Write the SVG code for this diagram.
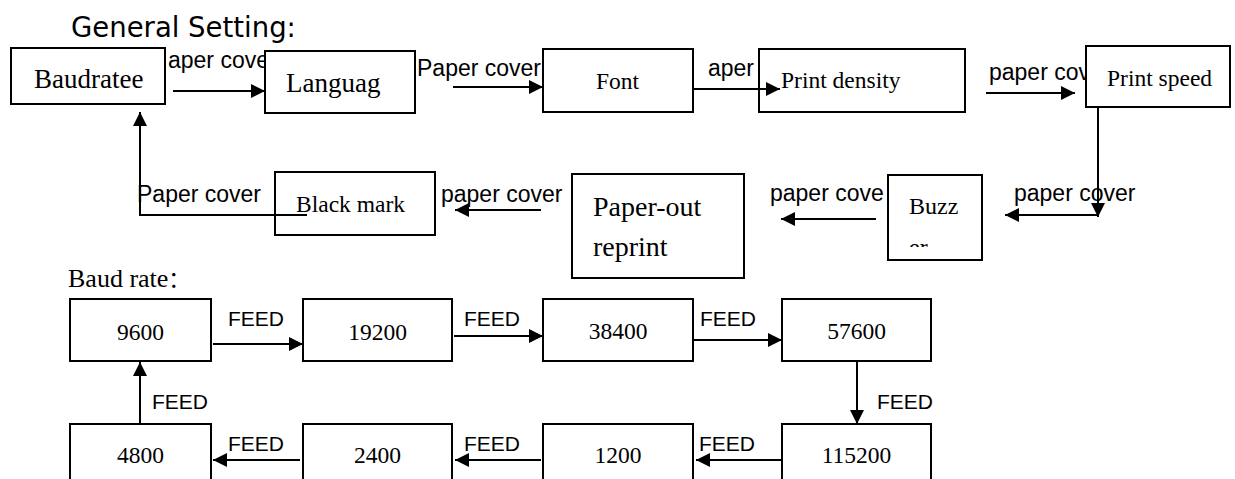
<svg xmlns="http://www.w3.org/2000/svg" width="1235" height="479" viewBox="0 0 1235 479">
<style>
.bg{fill:#fff}
.box{fill:#fff;stroke:#000;stroke-width:2}
.s{font-family:"Liberation Serif","Times New Roman",serif;fill:#000}
.l{font-family:"Liberation Sans",Arial,sans-serif;font-size:23px;fill:#000}
.f{font-family:"Liberation Sans",Arial,sans-serif;font-size:21px;fill:#000}
.c{fill:none;stroke:#000;stroke-width:2}
</style>
<defs>
<marker id="ah" markerWidth="14" markerHeight="14" refX="14" refY="7" orient="auto" markerUnits="userSpaceOnUse">
<path d="M0,0 L14,7 L0,14 z" fill="#000"/>
</marker>
<clipPath id="buzzclip"><rect x="889" y="176" width="92" height="71"/></clipPath>
</defs>
<rect class="bg" x="0" y="0" width="1235" height="479"/>
<text x="71" y="37" font-family="DejaVu Sans, Verdana, sans-serif" font-size="27.5" fill="#000">General Setting:</text>
<text class="s" x="68" y="287" font-size="26">Baud rate<tspan font-family="Noto Sans CJK SC, sans-serif" font-size="22">：</tspan></text>

<g id="labels">
<text class="l" x="168" y="68">aper cove</text>
<text class="l" x="417" y="76">Paper cover</text>
<text class="l" x="708" y="76">aper</text>
<text class="l" x="989" y="80">paper cov</text>
<text class="l" x="137" y="202">Paper cover</text>
<text class="l" x="441" y="202">paper cover</text>
<text class="l" x="770" y="201">paper cove</text>
<text class="l" x="1014" y="201">paper cover</text>
<text class="f" x="228" y="326">FEED</text>
<text class="f" x="464" y="326">FEED</text>
<text class="f" x="700" y="326">FEED</text>
<text class="f" x="152" y="409">FEED</text>
<text class="f" x="877" y="409">FEED</text>
<text class="f" x="228" y="451">FEED</text>
<text class="f" x="464" y="451">FEED</text>
<text class="f" x="699" y="451">FEED</text>
</g>

<g id="n-baudratee"><rect class="box" x="11" y="48" width="154" height="56"/><text class="s" x="34" y="88" font-size="27">Baudratee</text></g>
<g id="n-language"><rect class="box" x="265" y="51" width="150" height="62"/><text class="s" x="286" y="92" font-size="27">Languag</text></g>
<g id="n-font"><rect class="box" x="543" y="49" width="150" height="63"/><text class="s" x="596" y="89" font-size="23.5">Font</text></g>
<g id="n-density"><rect class="box" x="759" y="49" width="206" height="63"/><text class="s" x="781" y="88" font-size="23.5">Print density</text></g>
<g id="n-speed"><rect class="box" x="1086" y="46" width="144" height="61"/><text class="s" x="1107" y="86" font-size="23.5">Print speed</text></g>
<g id="n-buzzer"><rect class="box" x="888" y="175" width="94" height="85"/><text class="s" x="909" y="214" font-size="24">Buzz</text><text class="s" x="909" y="255" font-size="24" clip-path="url(#buzzclip)">er</text></g>
<g id="n-paperout"><rect class="box" x="572" y="174" width="172" height="104"/><text class="s" x="593" y="216" font-size="28">Paper-out</text><text class="s" x="593" y="256" font-size="28">reprint</text></g>
<g id="n-blackmark"><rect class="box" x="275" y="172" width="160" height="63"/><text class="s" x="296" y="212" font-size="23.5">Black mark</text></g>

<g id="n-9600"><rect class="box" x="70" y="299" width="141" height="62"/><text class="s" x="140.5" y="340" font-size="23.5" text-anchor="middle">9600</text></g>
<g id="n-19200"><rect class="box" x="303" y="299" width="149" height="62"/><text class="s" x="377.5" y="340" font-size="23.5" text-anchor="middle">19200</text></g>
<g id="n-38400"><rect class="box" x="543" y="299" width="150" height="62"/><text class="s" x="618" y="339" font-size="23.5" text-anchor="middle">38400</text></g>
<g id="n-57600"><rect class="box" x="782" y="299" width="149" height="62"/><text class="s" x="856.5" y="339" font-size="23.5" text-anchor="middle">57600</text></g>
<g id="n-4800"><rect class="box" x="70" y="424" width="141" height="70"/><text class="s" x="140.5" y="463" font-size="23.5" text-anchor="middle">4800</text></g>
<g id="n-2400"><rect class="box" x="303" y="424" width="149" height="70"/><text class="s" x="377.5" y="463" font-size="23.5" text-anchor="middle">2400</text></g>
<g id="n-1200"><rect class="box" x="543" y="424" width="150" height="70"/><text class="s" x="618" y="463" font-size="23.5" text-anchor="middle">1200</text></g>
<g id="n-115200"><rect class="box" x="782" y="424" width="149" height="70"/><text class="s" x="856.5" y="463" font-size="23.5" text-anchor="middle">115200</text></g>

<g id="connectors">
<line class="c" x1="173" y1="91" x2="265" y2="91" marker-end="url(#ah)"/>
<line class="c" x1="453" y1="87" x2="543" y2="87" marker-end="url(#ah)"/>
<line class="c" x1="693" y1="89" x2="780" y2="89" marker-end="url(#ah)"/>
<line class="c" x1="986" y1="93" x2="1075" y2="93" marker-end="url(#ah)"/>
<line class="c" x1="1098" y1="108" x2="1098" y2="217" marker-end="url(#ah)"/>
<line class="c" x1="1098" y1="215" x2="1005" y2="215" marker-end="url(#ah)"/>
<line class="c" x1="876" y1="219" x2="781" y2="219" marker-end="url(#ah)"/>
<line class="c" x1="541" y1="210" x2="455" y2="210" marker-end="url(#ah)"/>
<polyline class="c" points="307,215 140,215 140,112" stroke-width="2.5" marker-end="url(#ah)"/>
<line class="c" x1="213" y1="344" x2="303" y2="344" marker-end="url(#ah)"/>
<line class="c" x1="454" y1="336" x2="543" y2="336" marker-end="url(#ah)"/>
<line class="c" x1="693" y1="340" x2="782" y2="340" marker-end="url(#ah)"/>
<line class="c" x1="857" y1="361" x2="857" y2="424" marker-end="url(#ah)"/>
<line class="c" x1="782" y1="460" x2="696" y2="460" marker-end="url(#ah)"/>
<line class="c" x1="541" y1="460" x2="455" y2="460" marker-end="url(#ah)"/>
<line class="c" x1="300" y1="460" x2="213" y2="460" marker-end="url(#ah)"/>
<line class="c" x1="140" y1="424" x2="140" y2="362" marker-end="url(#ah)"/>
</g>
</svg>
